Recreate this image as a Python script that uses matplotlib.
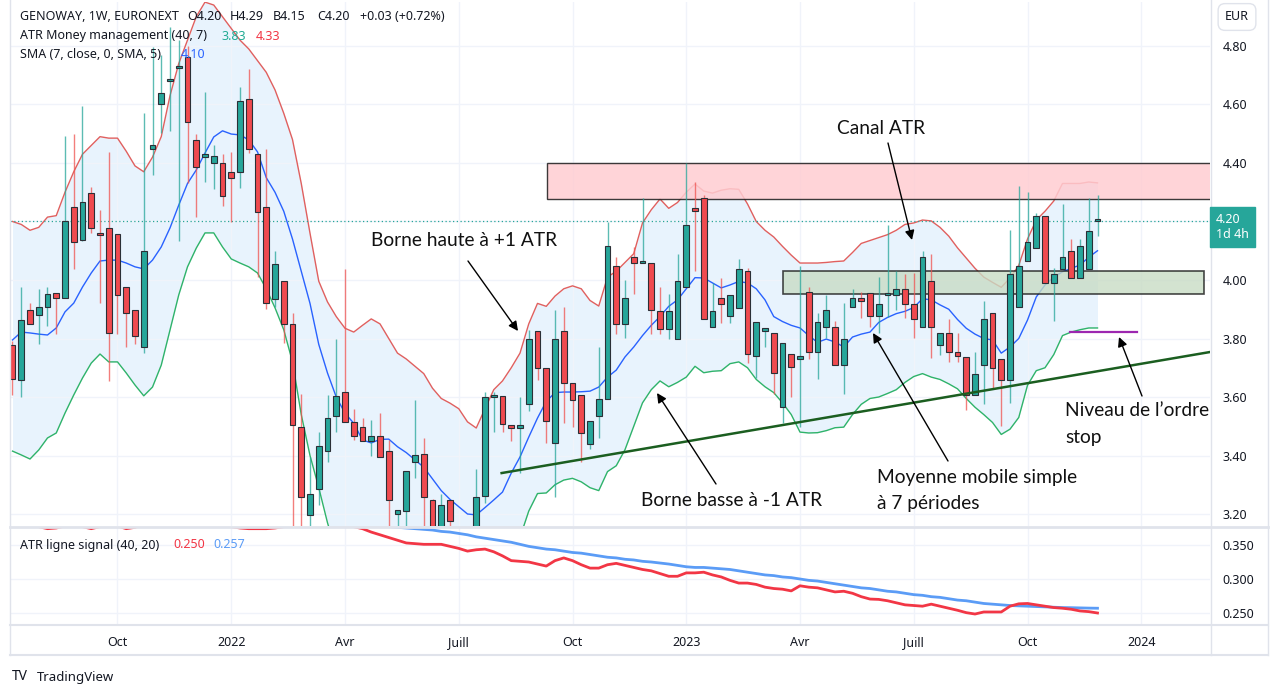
import numpy as np
import pandas as pd
import matplotlib
matplotlib.use("Agg")
import matplotlib.pyplot as plt
from matplotlib.patches import Rectangle
from matplotlib.lines import Line2D
from matplotlib.transforms import blended_transform_factory

plt.rcParams['font.family'] = ['Noto Sans', 'DejaVu Sans']

# weekly candles, first bar = week of 2021-07-12
start_date = '2021-07-12'

opens = [
    3.778, 3.658, 3.897, 3.880, 3.908, 3.955, 3.938, 4.250, 4.137, 4.297,
    4.160, 4.178, 4.157, 3.976, 3.897, 3.771, 4.448, 4.602, 4.680, 4.725,
    4.763, 4.479, 4.420, 4.400, 4.400, 4.369, 4.369, 4.619, 4.431, 4.250,
    3.935, 3.997, 3.850, 3.497, 3.197, 3.285, 3.415, 3.535, 3.617, 3.515,
    3.497, 3.450, 3.467, 3.415, 3.200, 3.210, 3.378, 3.405, 3.248, 3.130,
    3.248, 3.150, 3.100, 3.140, 3.262, 3.600, 3.603, 3.504, 3.494, 3.576,
    3.826, 3.699, 3.443, 3.826, 3.648, 3.607, 3.439, 3.535, 3.593, 4.048,
    3.850, 4.079, 4.058, 4.058, 3.894, 3.832, 3.798, 3.976, 4.246, 4.280,
    3.839, 3.938, 3.877, 3.904, 4.031, 3.740, 3.825, 3.819, 3.566, 3.747,
    3.730, 3.959, 3.754, 3.839, 3.839, 3.709, 3.908, 3.938, 3.955, 3.877,
    3.949, 3.949, 3.969, 3.918, 3.839, 3.997, 3.778, 3.819, 3.754, 3.737,
    3.607, 3.709, 3.887, 3.730, 3.658, 3.908, 4.065, 4.109, 4.219, 3.990,
    4.038, 4.099, 4.007, 4.038, 4.200]

highs = [
    3.790, 3.976, 3.921, 3.969, 3.976, 3.955, 4.492, 4.499, 4.595, 4.318,
    4.239, 4.438, 4.157, 3.976, 3.897, 4.571, 4.797, 4.769, 4.865, 4.820,
    4.800, 4.499, 4.643, 4.462, 4.431, 4.438, 4.660, 4.721, 4.431, 4.448,
    4.099, 3.997, 3.887, 3.610, 3.395, 3.480, 3.607, 3.798, 4.038, 3.559,
    3.528, 3.521, 3.545, 3.453, 3.214, 3.347, 3.590, 3.460, 3.250, 3.268,
    3.248, 3.155, 3.155, 3.354, 3.617, 3.617, 3.603, 3.504, 3.600, 3.829,
    3.826, 3.699, 3.897, 3.908, 3.648, 3.607, 3.518, 3.771, 4.198, 4.079,
    4.000, 4.113, 4.280, 4.058, 3.976, 3.952, 4.089, 4.400, 4.335, 4.290,
    3.990, 4.007, 3.949, 4.072, 4.041, 3.856, 3.835, 3.819, 3.785, 3.747,
    4.048, 3.976, 3.887, 3.949, 3.860, 3.921, 3.969, 3.959, 3.955, 4.010,
    4.188, 4.031, 4.021, 4.024, 4.099, 4.089, 3.819, 3.867, 3.819, 3.737,
    3.754, 3.928, 3.887, 3.730, 4.171, 4.321, 4.301, 4.229, 4.219, 4.041,
    4.260, 4.140, 4.140, 4.280, 4.290]

lows = [
    3.607, 3.600, 3.850, 3.781, 3.843, 3.815, 3.938, 4.038, 4.133, 4.161,
    3.921, 3.655, 3.815, 3.771, 3.781, 3.750, 4.359, 4.503, 4.510, 4.134,
    4.332, 4.215, 4.335, 4.311, 4.253, 4.198, 4.315, 4.434, 4.010, 3.900,
    3.908, 3.785, 3.100, 3.120, 3.140, 3.231, 3.378, 3.480, 3.515, 3.453,
    3.450, 3.398, 3.395, 3.130, 3.140, 3.150, 3.323, 3.120, 3.090, 3.100,
    3.120, 3.060, 3.050, 3.100, 3.238, 3.480, 3.480, 3.450, 3.340, 3.552,
    3.658, 3.443, 3.258, 3.511, 3.497, 3.378, 3.422, 3.460, 3.593, 3.815,
    3.802, 3.952, 4.058, 3.815, 3.815, 3.798, 3.798, 3.976, 4.031, 3.867,
    3.839, 3.853, 3.853, 3.904, 3.716, 3.665, 3.771, 3.610, 3.511, 3.600,
    3.497, 3.730, 3.662, 3.802, 3.709, 3.610, 3.908, 3.870, 3.839, 3.819,
    3.874, 3.897, 3.870, 3.802, 3.839, 3.733, 3.743, 3.720, 3.720, 3.556,
    3.607, 3.576, 3.631, 3.501, 3.580, 3.908, 4.065, 4.109, 3.990, 3.860,
    4.038, 4.007, 4.007, 4.038, 4.150]

closes = [
    3.662, 3.863, 3.850, 3.908, 3.952, 3.938, 4.202, 4.130, 4.267, 4.178,
    4.155, 3.819, 3.949, 3.887, 3.809, 4.099, 4.462, 4.640, 4.688, 4.729,
    4.539, 4.387, 4.432, 4.424, 4.287, 4.349, 4.612, 4.448, 4.233, 3.921,
    4.055, 3.850, 3.504, 3.258, 3.268, 3.432, 3.528, 3.603, 3.515, 3.467,
    3.450, 3.467, 3.395, 3.248, 3.214, 3.347, 3.402, 3.258, 3.130, 3.231,
    3.176, 3.100, 3.140, 3.258, 3.600, 3.600, 3.508, 3.494, 3.504, 3.798,
    3.699, 3.518, 3.798, 3.648, 3.590, 3.477, 3.518, 3.593, 4.116, 3.850,
    3.938, 4.058, 4.058, 3.897, 3.832, 3.894, 3.997, 4.188, 4.236, 3.867,
    3.894, 3.918, 3.949, 4.038, 3.747, 3.856, 3.835, 3.682, 3.785, 3.703,
    3.740, 3.754, 3.856, 3.897, 3.709, 3.798, 3.938, 3.928, 3.877, 3.918,
    3.955, 3.969, 3.918, 3.867, 4.079, 3.839, 3.819, 3.754, 3.740, 3.607,
    3.679, 3.867, 3.699, 3.658, 4.021, 4.048, 4.130, 4.219, 3.990, 4.021,
    4.079, 4.007, 4.116, 4.167, 4.200]

# ATR money management bands
band_up = [
    4.20, 4.19, 4.17, 4.18, 4.215, 4.22, 4.30, 4.37, 4.43, 4.46,
    4.49, 4.485, 4.485, 4.44, 4.39, 4.37, 4.42, 4.49, 4.63, 4.74,
    4.82, 4.90, 4.95, 4.94, 4.90, 4.86, 4.82, 4.79, 4.75, 4.71,
    4.65, 4.57, 4.48, 4.33, 4.16, 3.996, 3.925, 3.875, 3.835, 3.822,
    3.845, 3.867, 3.85, 3.80, 3.75, 3.73, 3.705, 3.68, 3.63, 3.595,
    3.579, 3.56, 3.515, 3.494, 3.56, 3.625, 3.655, 3.70, 3.75, 3.85,
    3.92, 3.91, 3.945, 3.97, 3.98, 3.97, 3.93, 3.911, 4.01, 4.03,
    4.06, 4.09, 4.195, 4.24, 4.277, 4.245, 4.265, 4.30, 4.328, 4.304,
    4.297, 4.307, 4.312, 4.31, 4.26, 4.20, 4.17, 4.147, 4.115, 4.085,
    4.058, 4.058, 4.058, 4.06, 4.063, 4.065, 4.094, 4.125, 4.135, 4.145,
    4.155, 4.17, 4.19, 4.195, 4.205, 4.202, 4.18, 4.15, 4.11, 4.075,
    4.04, 4.01, 3.992, 3.975, 4.007, 4.05, 4.14, 4.205, 4.235, 4.27,
    4.33, 4.33, 4.33, 4.335, 4.332]

band_low = [
    3.415, 3.402, 3.388, 3.419, 3.46, 3.477, 3.545, 3.607, 3.665, 3.716,
    3.747, 3.72, 3.72, 3.682, 3.641, 3.604, 3.634, 3.709, 3.829, 3.949,
    4.045, 4.109, 4.161, 4.161, 4.113, 4.072, 4.058, 4.045, 4.024, 3.97,
    3.905, 3.83, 3.72, 3.54, 3.40, 3.29, 3.17, 3.07, 3.04, 3.03,
    3.04, 3.06, 3.06, 3.03, 3.00, 3.00, 2.99, 2.98, 2.96, 2.94,
    2.94, 2.93, 2.91, 2.91, 2.95, 2.99, 3.02, 3.06, 3.12, 3.21,
    3.27, 3.272, 3.30, 3.316, 3.322, 3.31, 3.29, 3.28, 3.345, 3.365,
    3.42, 3.50, 3.58, 3.625, 3.655, 3.635, 3.65, 3.668, 3.705, 3.683,
    3.688, 3.69, 3.714, 3.72, 3.70, 3.66, 3.635, 3.615, 3.58, 3.54,
    3.48, 3.477, 3.478, 3.485, 3.495, 3.497, 3.54, 3.575, 3.595, 3.60,
    3.612, 3.625, 3.65, 3.67, 3.68, 3.668, 3.66, 3.645, 3.628, 3.595,
    3.565, 3.54, 3.513, 3.472, 3.49, 3.53, 3.64, 3.69, 3.70, 3.745,
    3.81, 3.822, 3.83, 3.836, 3.836]

sma7 = [
    3.795, 3.822, 3.819, 3.815, 3.812, 3.836, 3.891, 3.921, 3.976, 4.024,
    4.065, 4.068, 4.068, 4.058, 4.045, 4.038, 4.068, 4.113, 4.178, 4.256,
    4.33, 4.376, 4.434, 4.489, 4.51, 4.499, 4.496, 4.479, 4.438, 4.35,
    4.30, 4.235, 4.14, 4.03, 3.92, 3.78, 3.682, 3.60, 3.545, 3.51,
    3.453, 3.443, 3.455, 3.456, 3.43, 3.41, 3.385, 3.36, 3.32, 3.28,
    3.25, 3.225, 3.20, 3.197, 3.222, 3.248, 3.275, 3.34, 3.395, 3.463,
    3.528, 3.585, 3.615, 3.617, 3.617, 3.618, 3.62, 3.634, 3.668, 3.692,
    3.737, 3.771, 3.81, 3.845, 3.875, 3.91, 3.932, 3.97, 4.008, 4.007,
    3.99, 3.973, 3.983, 3.995, 3.99, 3.97, 3.932, 3.875, 3.858, 3.845,
    3.836, 3.81, 3.787, 3.798, 3.788, 3.771, 3.805, 3.815, 3.822, 3.855,
    3.872, 3.885, 3.893, 3.906, 3.936, 3.932, 3.915, 3.90, 3.865, 3.835,
    3.815, 3.80, 3.795, 3.75, 3.771, 3.80, 3.863, 3.942, 3.983, 4.01,
    4.028, 4.04, 4.051, 4.078, 4.10]

atr = [
    0.382, 0.380, 0.378, 0.377, 0.374, 0.375, 0.378, 0.379, 0.377, 0.374,
    0.377, 0.380, 0.378, 0.374, 0.376, 0.381, 0.386, 0.390, 0.392, 0.393,
    0.391, 0.388, 0.385, 0.382, 0.379, 0.377, 0.375, 0.374, 0.374, 0.374,
    0.375, 0.377, 0.379, 0.381, 0.383, 0.384, 0.383, 0.381, 0.379, 0.377,
    0.374, 0.369, 0.365, 0.361, 0.357, 0.353, 0.352, 0.351, 0.351, 0.351,
    0.348, 0.345, 0.341, 0.343, 0.344, 0.340, 0.334, 0.327, 0.326, 0.325,
    0.322, 0.319, 0.327, 0.331, 0.327, 0.321, 0.316, 0.316, 0.321, 0.323,
    0.320, 0.317, 0.314, 0.312, 0.308, 0.304, 0.304, 0.309, 0.309, 0.310,
    0.306, 0.303, 0.298, 0.294, 0.294, 0.292, 0.288, 0.286, 0.285, 0.2825,
    0.290, 0.288, 0.287, 0.284, 0.281, 0.282, 0.279, 0.274, 0.2705, 0.270,
    0.268, 0.265, 0.262, 0.261, 0.260, 0.263, 0.260, 0.257, 0.254, 0.2505,
    0.2485, 0.2515, 0.2515, 0.2515, 0.260, 0.2635, 0.264, 0.262, 0.260, 0.258,
    0.257, 0.2555, 0.253, 0.252, 0.250]

atr_signal = [
    0.392, 0.392, 0.391, 0.391, 0.390, 0.390, 0.389, 0.389, 0.388, 0.388,
    0.387, 0.387, 0.386, 0.386, 0.386, 0.385, 0.385, 0.385, 0.385, 0.386,
    0.386, 0.386, 0.386, 0.386, 0.386, 0.386, 0.385, 0.385, 0.384, 0.384,
    0.383, 0.383, 0.382, 0.382, 0.381, 0.381, 0.380, 0.380, 0.379, 0.379,
    0.378, 0.378, 0.377, 0.377, 0.376, 0.375, 0.374, 0.373, 0.372, 0.370,
    0.369, 0.367, 0.365, 0.362, 0.360, 0.358, 0.356, 0.354, 0.351, 0.348,
    0.346, 0.344, 0.343, 0.341, 0.339, 0.338, 0.336, 0.334, 0.332, 0.331,
    0.329, 0.328, 0.326, 0.325, 0.3235, 0.322, 0.320, 0.318, 0.317, 0.317,
    0.316, 0.315, 0.314, 0.312, 0.310, 0.308, 0.306, 0.305, 0.303, 0.302,
    0.300, 0.298, 0.297, 0.295, 0.293, 0.291, 0.289, 0.287, 0.286, 0.284,
    0.282, 0.281, 0.279, 0.277, 0.276, 0.274, 0.273, 0.271, 0.269, 0.268,
    0.266, 0.264, 0.263, 0.262, 0.261, 0.2605, 0.260, 0.2595, 0.259, 0.2585,
    0.258, 0.2578, 0.2575, 0.2572, 0.257]

price_ticks = [3.20, 3.40, 3.60, 3.80, 4.00, 4.20, 4.40, 4.60, 4.80]
atr_ticks = [0.250, 0.300, 0.350]
month_names = {1: None, 4: 'Avr', 7: 'Juill', 10: 'Oct'}

# drawn zones / levels
resistance_zone = (4.277, 4.40)
support_zone = (3.952, 4.032)
stop_level = 3.822
trend_pts = ([55.9, 136.9], [3.34, 3.754])
last_price = 4.20

UP = '#26a69a'
DOWN = '#ef5350'
W, H = 1280, 695


def fx(px):
    return px / W


def fy(py):
    return 1 - py / H


n = len(closes)
idx = np.arange(n)
o = np.array(opens)
c = np.array(closes)
hi = np.array(highs)
lo = np.array(lows)
up = c >= o

dates = pd.date_range(start_date, periods=140, freq='W-MON')
tick_idx, tick_lab = [], []
for i, d in enumerate(dates):
    if d.month in month_names and d.day <= 7:
        tick_idx.append(i)
        tick_lab.append(str(d.year) if d.month == 1 else month_names[d.month])

fig = plt.figure(figsize=(12.8, 6.95), dpi=100)
fig.patch.set_facecolor('white')

ax = fig.add_axes([fx(10), fy(526), fx(1210) - fx(10), fy(2) - fy(526)])
ax2 = fig.add_axes([fx(10), fy(625), fx(1210) - fx(10), fy(527) - fy(625)])
xlim = (-0.2857, 136.857)

# --- price panel ---
ax.fill_between(idx, band_low, band_up, color='#e8f3fd', lw=0, zorder=1)
ax.plot(idx, band_up, color='#e0605f', lw=1.0, zorder=2)
ax.plot(idx, band_low, color='#2fb36a', lw=1.0, zorder=2)
ax.plot(idx, sma7, color='#2962ff', lw=1.0, zorder=2)

wick_col = np.where(up, UP, DOWN)
ax.vlines(idx, lo, hi, colors=wick_col, lw=1.0, alpha=0.75, zorder=3)
body_h = np.maximum(np.abs(c - o), 0.007)
body_b = np.minimum(o, c)
ax.bar(idx, body_h, bottom=body_b, width=0.68, color=np.where(up, UP, '#f04a4f'),
       edgecolor='#2b2f36', linewidth=0.8, zorder=4)

ax.add_patch(Rectangle((61.1, resistance_zone[0]), 90, resistance_zone[1] - resistance_zone[0],
                       facecolor='#ffcdd2', alpha=0.85, edgecolor='#1a1a1a', lw=1.0, zorder=2.5))
ax.add_patch(Rectangle((88.1, support_zone[0]), 136.2 - 88.1, support_zone[1] - support_zone[0],
                       facecolor='#c8dcc5', alpha=0.8, edgecolor='#1a1a1a', lw=1.2, zorder=2.5))
ax.plot(trend_pts[0], trend_pts[1], color='#1b5e20', lw=1.8, zorder=5)
ax.plot([120.9, 128.5], [stop_level, stop_level], color='#9c27b0', lw=1.6, zorder=5)
ax.axhline(last_price, color=UP, lw=0.9, ls=(0, (1, 2)), zorder=2)

ax.set_xlim(*xlim)
ax.set_ylim(3.159, 4.9504)
ax.set_yticks(price_ticks)
# the 4.20 level is covered by the last-price label
ax.set_yticklabels(['' if abs(v - last_price) < 1e-6 else '%.2f' % v for v in price_ticks])
ax.yaxis.tick_right()
ax.tick_params(axis='y', length=0, pad=9, labelsize=9, labelcolor='#131722')
ax.set_xticks(tick_idx)
ax.tick_params(axis='x', length=0, labelbottom=False)
ax.grid(True, color='#f0f3fa', lw=1.0, zorder=0)
for s in ax.spines.values():
    s.set_visible(False)

# --- ATR panel ---
ax2.plot(idx, atr_signal, color='#5b9cf6', lw=2.0, zorder=3)
ax2.plot(idx, atr, color='#f23645', lw=2.0, zorder=4)
ax2.set_xlim(*xlim)
ax2.set_ylim(0.23235, 0.37647)
ax2.set_yticks(atr_ticks)
ax2.set_yticklabels(['%.3f' % v for v in atr_ticks])
ax2.yaxis.tick_right()
ax2.tick_params(axis='y', length=0, pad=9, labelsize=9, labelcolor='#131722')
ax2.set_xticks(tick_idx)
ax2.set_xticklabels(tick_lab)
ax2.tick_params(axis='x', length=0, pad=8, labelsize=9, labelcolor='#131722')
for t in ax2.get_xticklabels():
    if t.get_text().isdigit():
        t.set_fontweight('bold')
ax2.grid(True, color='#f0f3fa', lw=1.0, zorder=0)
for s in ax2.spines.values():
    s.set_visible(False)

# frame lines
frame = '#e0e3eb'
for x0, y0, x1, y1, lw in [(10, 0, 10, 655, 1), (1211, 0, 1211, 655, 1), (1268, 0, 1268, 655, 1),
                           (10, 526.5, 1268, 526.5, 2), (10, 625, 1268, 625, 1.5),
                           (10, 655, 1268, 655, 1.5)]:
    fig.add_artist(Line2D([fx(x0), fx(x1)], [fy(y0), fy(y1)], color=frame, lw=lw))

# legend texts
dark = '#131722'
fs = 9
fig.text(fx(20), fy(17), 'GENOWAY, 1W, EURONEXT', fontsize=fs, color=dark, va='center')
fig.text(fx(187), fy(17), 'O4.20', fontsize=fs, color=dark, va='center')
fig.text(fx(230), fy(17), 'H4.29', fontsize=fs, color=dark, va='center')
fig.text(fx(273), fy(17), 'B4.15', fontsize=fs, color=dark, va='center')
fig.text(fx(317), fy(17), 'C4.20', fontsize=fs, color=dark, va='center')
fig.text(fx(360), fy(17), '+0.03 (+0.72%)', fontsize=fs, color=dark, va='center')
fig.text(fx(20), fy(36), 'ATR Money management (40, 7)', fontsize=fs, color=dark, va='center')
fig.text(fx(222), fy(36), '3.83', fontsize=fs, color='#22ab94', va='center')
fig.text(fx(256), fy(36), '4.33', fontsize=fs, color='#f23645', va='center')
fig.text(fx(20), fy(55), 'SMA (7, close, 0, SMA, 5)', fontsize=fs, color=dark, va='center')
fig.text(fx(181), fy(55), '4.10', fontsize=fs, color='#2962ff', va='center')
fig.text(fx(20), fy(545), 'ATR ligne signal (40, 20)', fontsize=fs, color=dark, va='center')
fig.text(fx(173), fy(545), '0.250', fontsize=fs, color='#f23645', va='center')
fig.text(fx(213), fy(545), '0.257', fontsize=fs, color='#5b9cf6', va='center')

# price label + currency
fig.text(fx(1216), fy(227), '4.20\n1d 4h', fontsize=9, color='white', va='center', ha='left',
         linespacing=1.15, bbox=dict(boxstyle='square,pad=0.5', fc=UP, ec=UP))
fig.text(fx(1237), fy(17), 'EUR', fontsize=9, color=dark, ha='center', va='center',
         bbox=dict(boxstyle='round,pad=0.55', fc='white', ec='#e0e3eb'))

# annotations
ann_font = dict(family=['Lato', 'DejaVu Sans'], fontsize=13.8, color='#111111')
arrow = dict(arrowstyle='-|>', color='black', lw=1.0, mutation_scale=14, shrinkA=0, shrinkB=0)
notes = [
    ('Canal ATR', (837, 128), (888, 143), (912, 240)),
    ('Borne haute à +1 ATR', (371, 241), (468, 261), (518, 331)),
    ('Borne basse à -1 ATR', (641, 501), (716, 484), (657, 393)),
    ('Moyenne mobile simple', (877, 478), (948, 461), (873, 333)),
    ('Niveau de l\u2019ordre', (1065, 411), (1142, 396), (1119, 337)),
]
for label, (tx, ty), tail, head in notes:
    fig.text(fx(tx), fy(ty), label, ha='left', va='center', **ann_font)
    ax.annotate('', xy=(fx(head[0]), fy(head[1])), xycoords='figure fraction',
                xytext=(fx(tail[0]), fy(tail[1])), textcoords='figure fraction',
                arrowprops=arrow, zorder=6)
fig.text(fx(877), fy(504), 'à 7 périodes', ha='left', va='center', **ann_font)
fig.text(fx(1065), fy(437), 'stop', ha='left', va='center', **ann_font)

# footer logo
fig.text(fx(12), fy(677), 'TV', fontsize=10, fontweight='heavy', color=dark, va='center')
fig.text(fx(37), fy(677), 'TradingView', fontsize=9.5, color=dark, va='center')

fig.savefig('out.png', dpi=100)
